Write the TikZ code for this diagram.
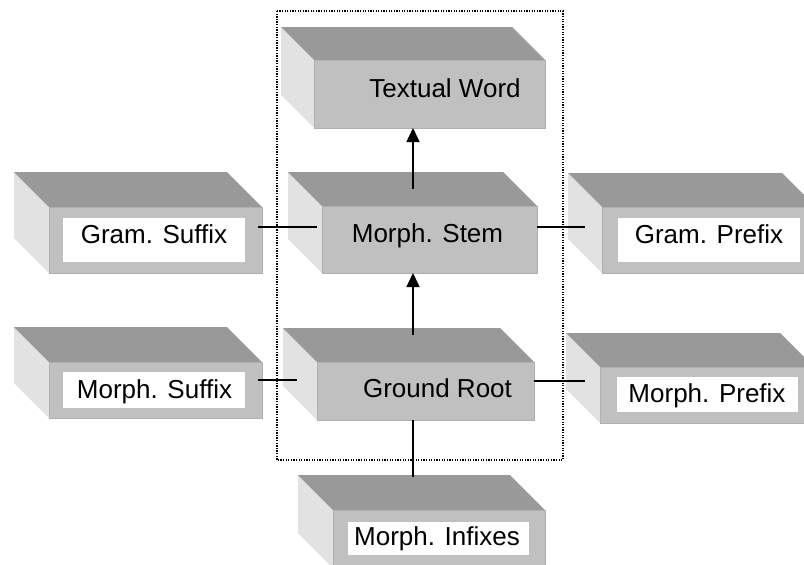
\documentclass[tikz,border=0pt]{standalone}
\usepackage{fontspec}
\setmainfont{Liberation Sans}
\usetikzlibrary{arrows.meta}

\definecolor{facetop}{HTML}{999999}
\definecolor{faceleft}{HTML}{E2E2E2}
\definecolor{facefront}{HTML}{C0C0C0}
\definecolor{faceedge}{HTML}{B0B0B0}

% Bevelled block: #1 name, (#2,#3) front top-left, (#4,#5) front bottom-right, #6 depth
\newcommand{\bevelblock}[6]{%
  \fill[faceleft] ({#2-#6},{#3-#6}) -- (#2,#3) -- (#2,#5) -- ({#2-#6},{#5-#6}) -- cycle;
  \fill[facetop] ({#2-#6},{#3-#6}) -- ({#4-#6},{#3-#6}) -- (#4,#3) -- (#2,#3) -- cycle;
  \node[frontface, minimum width={(#4-#2)*1pt}, minimum height={(#5-#3)*1pt}]
    (#1) at ({(#2+#4)/2},{(#3+#5)/2}) {};
}

\tikzset{
  frontface/.style={rectangle, fill=facefront, draw=faceedge, line width=1pt,
    inner sep=0pt, outer sep=0pt},
  tag/.style={rectangle, fill=white, inner sep=0pt, outer sep=0pt},
  word/.style={font=\fontsize{26}{30}\selectfont, inner sep=0pt, anchor=base},
  link/.style={line width=1.5pt, black},
  uplink/.style={link, -{Triangle[length=14pt,width=13pt]}},
  frame/.style={line width=1.3pt, dash pattern=on 1.3pt off 1.3pt},
}

\begin{document}
\begin{tikzpicture}[x=1pt, y=-1pt]
\useasboundingbox (0,0) rectangle (804,565);
\clip (0,0) rectangle (804,565);

% dotted frame round the central column
\draw[frame] (277,11) rectangle (563,460);

% blocks
\bevelblock{word}{314}{60}{545}{128}{33}
\bevelblock{stem}{322}{206}{537}{273}{34}
\bevelblock{gsuf}{49}{207}{262}{273}{35}
\bevelblock{gpre}{602}{207}{816}{273}{34}
\bevelblock{root}{317}{362}{534}{420}{34}
\bevelblock{msuf}{49}{362}{262}{418}{35}
\bevelblock{mpre}{600}{367}{814}{423}{34}
\bevelblock{infx}{333}{510}{545}{568}{35}

% white tags on the outer blocks
\node[tag, minimum width=182pt, minimum height=44pt] (gsuftag) at (154,240) {};
\node[tag, minimum width=182pt, minimum height=44pt] (gpretag) at (709,240) {};
\node[tag, minimum width=182pt, minimum height=36pt] (msuftag) at (154,390) {};
\node[tag, minimum width=181pt, minimum height=35pt] (mpretag) at (707.5,394.5) {};
\node[tag, minimum width=181pt, minimum height=33pt] (infxtag) at (438.5,538.5) {};

% labels
\node[word] (wordtxt) at (445,97) {Textual Word};
\node[word] (stemtxt) at (427.5,242) {Morph. Stem};
\node[word] (roottxt) at (437.5,397) {Ground Root};
\node[word] (gsuftxt) at (154,243) {Gram. Suffix};
\node[word] (gpretxt) at (709,243) {Gram. Prefix};
\node[word] (msuftxt) at (154.5,398) {Morph. Suffix};
\node[word] (mpretxt) at (707,402) {Morph. Prefix};
\node[word] (infxtxt) at (437,545) {Morph. Infixes};

% connector end points on the block faces
\coordinate (spine) at (413,0);
\coordinate (stemtop) at (413,189);
\coordinate (roottop) at (413,335);
\coordinate (infxtop) at (413,477);
\coordinate (gsufend) at (258,227);
\coordinate (stemleft) at (317,227);
\coordinate (gpreleft) at (585,227);
\coordinate (msufend) at (258,380);
\coordinate (rootleft) at (297,380);
\coordinate (mpreleft) at (585,381);

% connectors
\draw[uplink] (stemtop) -- (word.south -| spine);
\draw[uplink] (roottop) -- (stem.south -| spine);
\draw[link] (root.south -| spine) -- (infxtop);
\draw[link] (gsufend) -- (stemleft);
\draw[link] (stem.east |- gpreleft) -- (gpreleft);
\draw[link] (msufend) -- (rootleft);
\draw[link] (root.east |- mpreleft) -- (mpreleft);
\end{tikzpicture}
\end{document}
